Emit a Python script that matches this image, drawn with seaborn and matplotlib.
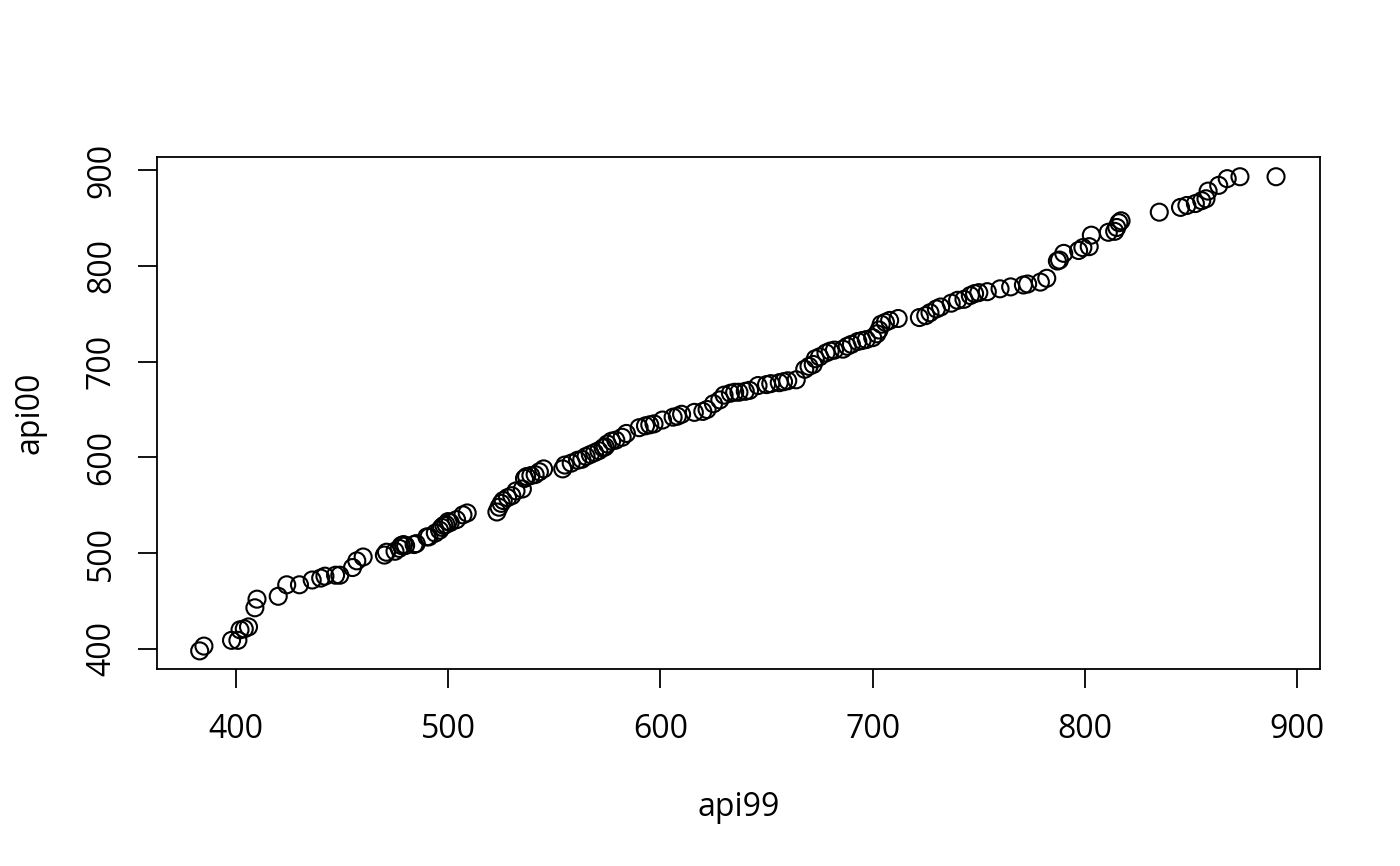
import seaborn as sns
import pandas as pd
import matplotlib.pyplot as plt

# sorted pairs (qq style)
api99 = [383, 385, 398, 401, 402, 404, 406, 409, 410, 420, 424, 430, 436, 440, 442, 447, 449,
         455, 457, 460, 470, 471, 475, 477, 478, 479, 480, 484, 485, 490, 491, 494, 496, 497,
         498, 499, 500, 501, 504, 507, 509, 523, 524, 525, 526, 528, 530, 532, 535, 536, 537,
         539, 541, 543, 545, 554, 555, 558, 561, 563, 565, 567, 569, 571, 573, 574, 575, 577,
         579, 582, 584, 590, 593, 595, 597, 601, 606, 608, 610, 616, 620, 622, 625, 628, 630,
         633, 635, 637, 640, 642, 646, 650, 652, 656, 658, 660, 664, 668, 670, 672, 673, 675,
         678, 680, 682, 686, 688, 690, 693, 695, 697, 700, 702, 703, 704, 706, 708, 712, 722,
         725, 727, 730, 732, 737, 740, 743, 746, 748, 750, 754, 760, 765, 771, 773, 779, 782,
         787, 788, 790, 797, 799, 802, 803, 811, 814, 815, 816, 817, 835, 845, 848, 852, 855,
         857, 858, 863, 867, 873, 890]
api00 = [398, 403, 409, 409, 420, 421, 423, 443, 452, 455, 467, 467, 472, 474, 476, 477, 477,
         485, 492, 496, 498, 501, 502, 505, 508, 509, 508, 509, 510, 517, 517, 521, 524, 527,
         529, 530, 533, 532, 535, 540, 542, 543, 548, 552, 555, 558, 560, 565, 567, 578, 580,
         581, 582, 585, 588, 588, 592, 594, 597, 598, 601, 603, 605, 607, 610, 611, 614, 617,
         618, 621, 625, 631, 633, 634, 635, 639, 642, 643, 645, 647, 648, 650, 656, 660, 665,
         667, 668, 668, 669, 670, 675, 676, 677, 678, 679, 680, 681, 692, 695, 697, 703, 705,
         709, 711, 712, 713, 716, 718, 721, 722, 723, 725, 729, 733, 739, 741, 743, 745, 746,
         748, 751, 755, 757, 761, 764, 765, 769, 771, 772, 773, 776, 778, 780, 781, 783, 787,
         805, 806, 813, 816, 819, 820, 832, 835, 836, 840, 845, 847, 856, 861, 863, 865, 868,
         870, 878, 884, 891, 893, 893]

x_ticks = [400, 500, 600, 700, 800, 900]
y_ticks = [400, 500, 600, 700, 800, 900]

sns.set_style("white")
plt.rcParams['font.family'] = ['Open Sans', 'DejaVu Sans']
plt.rcParams['text.color'] = 'black'
plt.rcParams['axes.labelcolor'] = 'black'
plt.rcParams['xtick.color'] = 'black'
plt.rcParams['ytick.color'] = 'black'

df = pd.DataFrame({"api99": api99, "api00": api00})

fig = plt.figure(figsize=(14, 8.66), dpi=100)
ax = fig.add_axes([0.112, 0.2275, 0.831, 0.5912])

sns.scatterplot(data=df, x="api99", y="api00", ax=ax, marker="o", s=150,
                facecolors="none", edgecolor="black", linewidth=1.5)

ax.set_xlim(362.8, 910.8)
ax.set_ylim(379.1, 913.6)
ax.set_xticks(x_ticks)
ax.set_yticks(y_ticks)
ax.set_yticklabels([str(t) for t in y_ticks], rotation=90, va="center")

for sp in ax.spines.values():
    sp.set_visible(True)
    sp.set_color("black")
    sp.set_linewidth(1.3)

ax.tick_params(axis="x", pad=18)
ax.tick_params(axis="y", pad=14)
ax.tick_params(axis="both", direction="out", length=14, width=1.3, colors="black",
               labelsize=23, bottom=True, left=True)
ax.set_xlabel("api99", fontsize=23, labelpad=32, color="black")
ax.set_ylabel("api00", fontsize=23, labelpad=28, color="black")

fig.savefig("out.png", dpi=100)
